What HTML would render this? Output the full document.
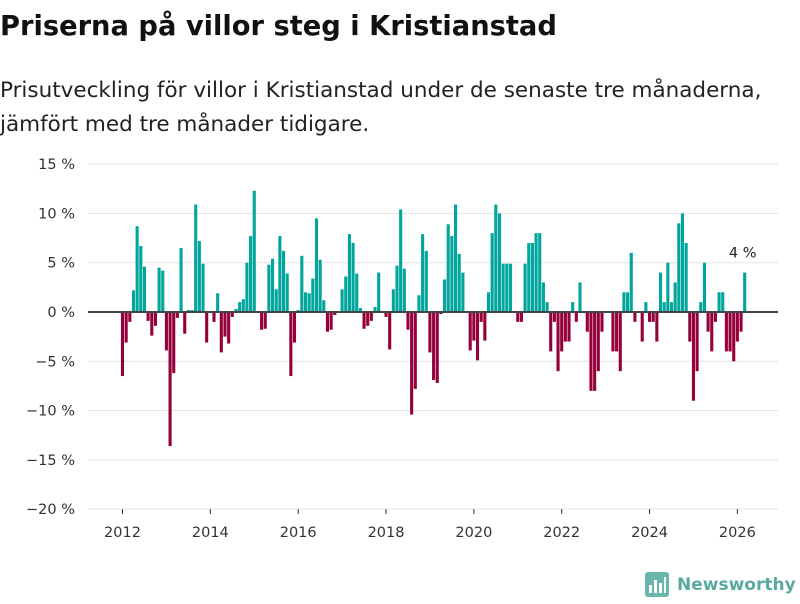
<!DOCTYPE html>
<html><head><meta charset="utf-8"><style>
body{margin:0;background:#fff;width:800px;height:600px;overflow:hidden;font-family:"DejaVu Sans",sans-serif;}
svg text{font-family:"DejaVu Sans",sans-serif;}
</style></head><body>
<svg width="800" height="600" xmlns="http://www.w3.org/2000/svg">
<text x="0" y="35" font-size="27.3" font-weight="bold" fill="#111">Priserna på villor steg i Kristianstad</text>
<text x="0" y="97" font-size="21.5" fill="#222">Prisutveckling för villor i Kristianstad under de senaste tre månaderna,</text>
<text x="0" y="131" font-size="21.5" fill="#222">jämfört med tre månader tidigare.</text>
<g id="grid"></g><g id="bars"></g><g id="axes"></g>
<g>
<rect x="645" y="572" width="24" height="25" rx="3" fill="#6ab5ac"/>
<rect x="649" y="585" width="3" height="8" fill="#fff"/><rect x="654" y="580" width="3" height="13" fill="#fff"/><rect x="659" y="583" width="3" height="10" fill="#fff"/><rect x="664" y="577" width="2" height="16" fill="#fff"/>
<text x="677" y="590" font-size="17" font-weight="bold" fill="#5aa99f">Newsworthy</text>
</g>
</svg>
<script>
const values=[-6.5,-3.1,-1.0,2.2,8.7,6.7,4.6,-0.9,-2.4,-1.4,4.5,4.2,-3.9,-13.6,-6.2,-0.6,6.5,-2.2,0.2,0.2,10.9,7.2,4.9,-3.1,0,-1.0,1.9,-4.1,-2.5,-3.2,-0.5,0.3,1.0,1.3,5.0,7.7,12.3,0,-1.8,-1.7,4.8,5.4,2.3,7.7,6.2,3.9,-6.5,-3.1,0.2,5.7,2.0,1.9,3.4,9.5,5.3,1.2,-2.0,-1.8,-0.3,0,2.3,3.6,7.9,7.0,3.9,0.4,-1.7,-1.4,-0.9,0.5,4.0,0,-0.5,-3.8,2.3,4.7,10.4,4.4,-1.8,-10.4,-7.8,1.7,7.9,6.2,-4.1,-6.9,-7.2,-0.2,3.3,8.9,7.7,10.9,5.9,4.0,0,-3.9,-2.9,-4.9,-1.0,-2.9,2.0,8.0,10.9,10.0,4.9,4.9,4.9,0,-1,-1,4.9,7,7,8,8,3,1,-4,-1,-6,-4,-3,-3,1,-1,3,0,-2,-8,-8,-6,-2,0,0,-4,-4,-6,2,2,6,-1,0,-3,1,-1,-1,-3,4,1,5,1,3,9,10,7,-3,-9,-6,1,5,-2,-4,-1,2,2,-4,-4,-5,-3,-2,4];
const yTicks=[15,10,5,0,-5,-10,-15,-20];
const xTicks=[2012,2014,2016,2018,2020,2022,2024,2026];
const startYear=2012;
const lastLabel="4 %";
const NS="http://www.w3.org/2000/svg";
const y=v=>312-v*9.857;
const x=i=>122.5+i*3.66;
const xYear=yr=>x((yr-startYear)*12);
function mk(t,a,p){const e=document.createElementNS(NS,t);for(const k in a)e.setAttribute(k,a[k]);p.appendChild(e);return e;}
const grid=document.getElementById('grid'),bars=document.getElementById('bars'),axes=document.getElementById('axes');
yTicks.forEach(v=>{
  const l=mk('line',{x1:88,x2:778,y1:y(v),y2:y(v),stroke:'#e3e3e3','stroke-width':1},grid);
  
  
  const t=mk('text',{x:75,y:y(v)+5,'text-anchor':'end','font-size':14.5,fill:'#333'},axes);
  t.textContent=(v<0?'\u2212'+(-v):v)+' %';
  
  
});
values.forEach((v,i)=>{
  const r=mk('rect',{x:x(i)-1.55,width:3.1,y:Math.min(y(v),y(0)),height:Math.abs(y(v)-y(0)),fill:v>=0?'#00a59b':'#96003a'},bars);
  
  
});
const z=mk('line',{x1:88,x2:778,y1:y(0),y2:y(0),stroke:'#444','stroke-width':2},axes);


xTicks.forEach(yr=>{
  const tk=mk('line',{x1:xYear(yr),x2:xYear(yr),y1:509,y2:514,stroke:'#333','stroke-width':1},axes);
  
  
  const t=mk('text',{x:xYear(yr),y:537,'text-anchor':'middle','font-size':14.5,fill:'#333'},axes);
  t.textContent=yr;
  
  
});
const li=values.length-1;
const lab=mk('text',{x:x(li)-2,y:y(values[li])-15,'text-anchor':'middle','font-size':14.5,fill:'#222'},axes);
lab.textContent=lastLabel;


</script>
</body></html>
